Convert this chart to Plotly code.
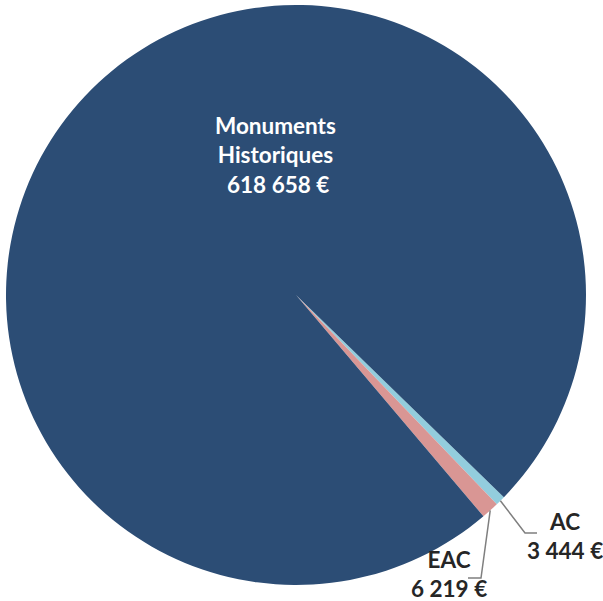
import math
import plotly.graph_objects as go

labels = ["AC", "EAC", "Monuments Historiques"]
values = [3444, 6219, 618658]
colors = ["#93CDDD", "#D99694", "#2C4D75"]
label_text = ["AC<br>3 444 €", "EAC<br>6 219 €", "Monuments<br>Historiques<br> 618 658 €"]

W, H = 603, 601
CX, CY, R = 296, 295, 290
ROT = 134.2


def px(x):
    return x / W


def py(y):
    return 1 - y / H


fig = go.Figure(go.Pie(
    labels=labels,
    values=values,
    marker=dict(colors=colors, line=dict(width=0)),
    sort=False,
    direction="clockwise",
    rotation=ROT,
    textinfo="none",
    hoverinfo="label+value",
    showlegend=False,
    domain=dict(x=[px(CX - R), px(CX + R)], y=[py(CY + R), py(CY - R)]),
))

total = sum(values)
cum = 0
mids = []
for v in values:
    mids.append(ROT + (cum + v / 2) / total * 360)
    cum += v


def edge(angle_deg, r=R):
    a = math.radians(angle_deg)
    return CX + r * math.sin(a), CY - r * math.cos(a)


font_dark = dict(family="Lato", size=22.5, color="#262626")
font_white = dict(family="Lato", size=22.5, color="#FFFFFF")

# leader lines
ax0, ay0 = edge(mids[0])
ex0, ey0 = edge(mids[1])
shapes = [
    dict(type="path", xref="paper", yref="paper",
         path=f"M {px(ax0)},{py(ay0)} L {px(525)},{py(533)} L {px(537)},{py(533)}",
         line=dict(color="#7F7F7F", width=1.5)),
    dict(type="path", xref="paper", yref="paper",
         path=f"M {px(ex0)},{py(ey0)} L {px(481)},{py(578)} L {px(468)},{py(578)}",
         line=dict(color="#7F7F7F", width=1.5)),
]

annotations = [
    dict(x=px(565), y=py(536), xref="paper", yref="paper", text=f"<b>{label_text[0]}</b>",
         showarrow=False, font=font_dark, xanchor="center", yanchor="middle"),
    dict(x=px(449), y=py(574), xref="paper", yref="paper", text=f"<b>{label_text[1]}</b>",
         showarrow=False, font=font_dark, xanchor="center", yanchor="middle"),
    dict(x=px(275), y=py(155), xref="paper", yref="paper", text=f"<b>{label_text[2]}</b>",
         showarrow=False, font=font_white, xanchor="center", yanchor="middle"),
]

fig.update_layout(
    width=W, height=H,
    margin=dict(l=0, r=0, t=0, b=0),
    paper_bgcolor="white",
    plot_bgcolor="white",
    shapes=shapes,
    annotations=annotations,
)

fig.write_html("out.html", config={"displayModeBar": False},
               post_script="document.body.style.margin='0';")
